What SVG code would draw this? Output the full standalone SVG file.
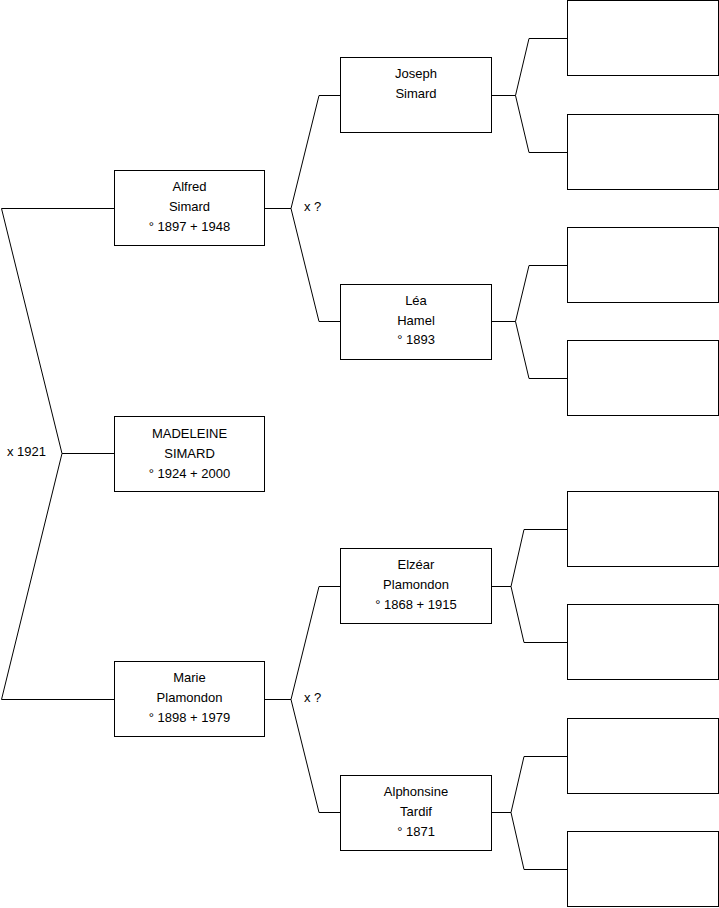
<svg xmlns="http://www.w3.org/2000/svg" width="719" height="908" viewBox="0 0 719 908">
<style>
.box{fill:#fff;stroke:#000;stroke-width:1}
.ln{fill:none;stroke:#000;stroke-width:1}
text{font-family:"Liberation Sans",Arial,sans-serif;font-size:13px;fill:#000}
.c{text-anchor:middle}
</style>
<rect x="0" y="0" width="719" height="908" fill="#fff"/>
<g id="connectors">
<polyline class="ln" points="114,208.5 1.5,208.5 62,453.5 1.5,699.5 114,699.5"/>
<line class="ln" x1="62" y1="453.5" x2="114" y2="453.5"/>
<polyline class="ln" points="340,95.5 319,95.5 291,208.5 319,321.5 340,321.5"/>
<line class="ln" x1="265" y1="208.5" x2="291" y2="208.5"/>
<polyline class="ln" points="340,586.5 319,586.5 291,699.5 319,812.5 340,812.5"/>
<line class="ln" x1="265" y1="699.5" x2="291" y2="699.5"/>
<polyline class="ln" points="567,38.5 529,38.5 515.5,95.5 529,152.5 567,152.5"/>
<line class="ln" x1="492" y1="95.5" x2="515.5" y2="95.5"/>
<polyline class="ln" points="567,265.5 529,265.5 515.5,321.5 529,378.5 567,378.5"/>
<line class="ln" x1="492" y1="321.5" x2="515.5" y2="321.5"/>
<polyline class="ln" points="567,529.5 524,529.5 511,586.5 524,642.5 567,642.5"/>
<line class="ln" x1="492" y1="586.5" x2="511" y2="586.5"/>
<polyline class="ln" points="567,756.5 524,756.5 511,812.5 524,869.5 567,869.5"/>
<line class="ln" x1="492" y1="812.5" x2="511" y2="812.5"/>
<text x="7" y="456">x 1921</text>
<text x="304" y="211">x ?</text>
<text x="304" y="702">x ?</text>
</g>
<g id="madeleine">
<rect class="box" x="114.5" y="416.5" width="150" height="75"/>
<text class="c" x="189.5" y="438">MADELEINE</text>
<text class="c" x="189.5" y="458">SIMARD</text>
<text class="c" x="189.5" y="478">° 1924 + 2000</text>
</g>
<g id="alfred">
<rect class="box" x="114.5" y="170.5" width="150" height="75"/>
<text class="c" x="189.5" y="191">Alfred</text>
<text class="c" x="189.5" y="211">Simard</text>
<text class="c" x="189.5" y="231">° 1897 + 1948</text>
</g>
<g id="marie">
<rect class="box" x="114.5" y="661.5" width="150" height="75"/>
<text class="c" x="189.5" y="682">Marie</text>
<text class="c" x="189.5" y="702">Plamondon</text>
<text class="c" x="189.5" y="722">° 1898 + 1979</text>
</g>
<g id="joseph">
<rect class="box" x="340.5" y="57.5" width="151" height="75"/>
<text class="c" x="416" y="78">Joseph</text>
<text class="c" x="416" y="98">Simard</text>
</g>
<g id="lea">
<rect class="box" x="340.5" y="284.5" width="151" height="75"/>
<text class="c" x="416" y="305">Léa</text>
<text class="c" x="416" y="325">Hamel</text>
<text class="c" x="416" y="344">° 1893</text>
</g>
<g id="elzear">
<rect class="box" x="340.5" y="548.5" width="151" height="75"/>
<text class="c" x="416" y="569">Elzéar</text>
<text class="c" x="416" y="589">Plamondon</text>
<text class="c" x="416" y="609">° 1868 + 1915</text>
</g>
<g id="alphonsine">
<rect class="box" x="340.5" y="775.5" width="151" height="75"/>
<text class="c" x="416" y="796">Alphonsine</text>
<text class="c" x="416" y="816">Tardif</text>
<text class="c" x="416" y="836">° 1871</text>
</g>
<g id="p1"><rect class="box" x="567.5" y="0.5" width="151" height="75"/></g>
<g id="p2"><rect class="box" x="567.5" y="114.5" width="151" height="75"/></g>
<g id="p3"><rect class="box" x="567.5" y="227.5" width="151" height="75"/></g>
<g id="p4"><rect class="box" x="567.5" y="340.5" width="151" height="75"/></g>
<g id="p5"><rect class="box" x="567.5" y="491.5" width="151" height="75"/></g>
<g id="p6"><rect class="box" x="567.5" y="604.5" width="151" height="75"/></g>
<g id="p7"><rect class="box" x="567.5" y="718.5" width="151" height="75"/></g>
<g id="p8"><rect class="box" x="567.5" y="831.5" width="151" height="75"/></g>
</svg>
